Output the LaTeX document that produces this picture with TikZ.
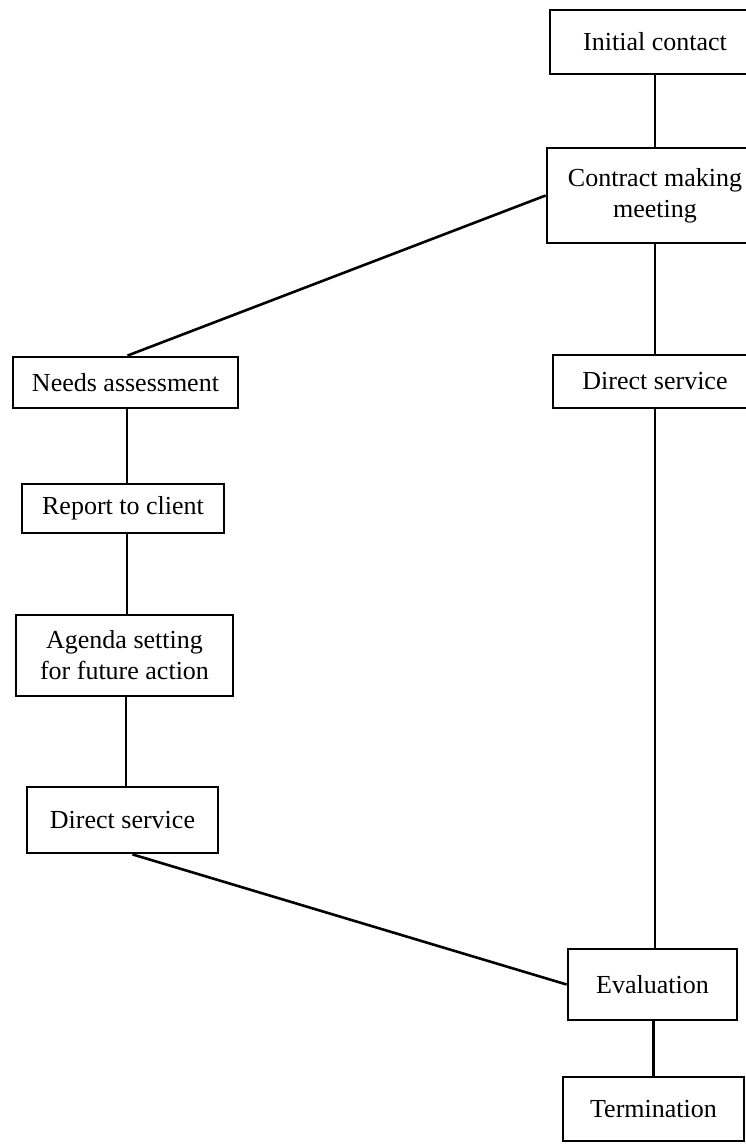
\documentclass[tikz,border=0pt]{standalone}
\usepackage{fontspec}
\setmainfont{Liberation Serif}
\begin{document}
\begin{tikzpicture}[x=1pt,y=-1pt,
  box/.style={draw, line width=2.8pt, rectangle, inner sep=0pt, align=center,
    font=\fontsize{26}{31}\selectfont},
  link/.style={line width=2.6pt}]
\useasboundingbox (0,0) rectangle (746,1146);
\begin{scope}
\clip (0,0) rectangle (746,1146);
% right-hand column
\node[box, minimum width=210pt, minimum height=64pt] (init) at (655,42) {Initial contact};
\node[box, minimum width=216pt, minimum height=95pt] (contract) at (655,195.5) {Contract making\\meeting};
\node[box, minimum width=204pt, minimum height=53pt] (dsR) at (655,381.5) {Direct service};
\node[box, minimum width=169pt, minimum height=71pt] (eval) at (652.5,984.5) {Evaluation};
\node[box, minimum width=181pt, minimum height=64pt] (term) at (653.5,1109) {Termination};
% left-hand column
\node[box, minimum width=225pt, minimum height=51pt] (needs) at (125.5,382.5) {Needs assessment};
\node[box, minimum width=202pt, minimum height=49pt] (report) at (123,508.5) {Report to client};
\node[box, minimum width=217pt, minimum height=81pt] (agenda) at (124.5,655.5) {Agenda setting\\for future action};
\node[box, minimum width=191pt, minimum height=66pt] (dsL) at (122.5,820) {Direct service};
% connectors
\draw[link] (init.south) -- (init.south |- contract.north);
\draw[link] (contract.west) -- ([xshift=2pt]needs.north);
\draw[link] (contract.south) -- (contract.south |- dsR.north);
\draw[link] (dsR.south) -- (dsR.south |- eval.north);
\draw[link] ([xshift=1pt]eval.south) -- ([xshift=1pt]eval.south |- term.north);
\draw[link] ([xshift=1.5pt]needs.south) -- ([xshift=1.5pt]needs.south |- report.north);
\draw[link] ([xshift=4pt]report.south) -- ([xshift=4pt]report.south |- agenda.north);
\draw[link] ([xshift=1.5pt]agenda.south) -- ([xshift=1.5pt]agenda.south |- dsL.north);
\draw[link] ([xshift=10pt]dsL.south) -- (eval.west);
\end{scope}
\end{tikzpicture}
\end{document}
